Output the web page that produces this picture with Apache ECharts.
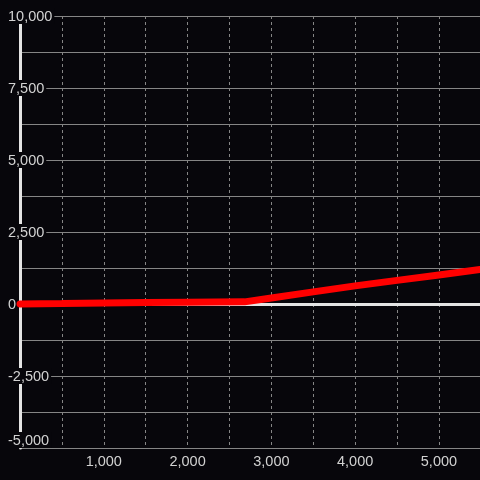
<!DOCTYPE html>
<html>
<head>
    <meta charset="utf-8">
    <title>ECharts</title>
    <script src="https://cdn.jsdelivr.net/npm/echarts@6/dist/echarts.min.js"></script>
    <style>
        html, body { margin: 0; padding: 0; background: #07060b; }
    </style>
</head>
<body>
<div id="main" style="width: 480px;height:480px;"></div>
<script type="text/javascript">
    // x positions and values
    var xValues = [0, 500, 1000, 1500, 2000, 2680, 3000, 3500, 4000, 4500, 5000, 5490];
    var yValues = [0, 15, 35, 55, 65, 75, 210, 420, 630, 820, 1010, 1195];

    var xMin = 0, xMax = 5490;
    var yMin = -5000, yMax = 10000;

    var bg = '#07060b';
    var gridColor = '#858585';
    var labelColor = '#d2d2d2';

    function fmt(v) {
        return v.toLocaleString('en-US');
    }

    var points = [];
    for (var i = 0; i < xValues.length; i++) {
        points.push([xValues[i], yValues[i]]);
    }

    var myChart = echarts.init(document.getElementById('main'));

    var option = {
        backgroundColor: bg,
        animation: false,
        grid: {
            left: 20,
            right: 0,
            top: 16,
            bottom: 32
        },
        xAxis: [{
            type: 'value',
            min: xMin,
            max: xMax,
            interval: 500,
            axisLine: { show: false, onZero: false },
            axisTick: { show: false },
            axisLabel: {
                color: labelColor,
                fontFamily: 'Liberation Sans',
                fontSize: 14.5,
                margin: 6,
                showMaxLabel: false,
                formatter: function (v) {
                    return (v > 0 && v % 1000 === 0) ? fmt(v) : '';
                }
            },
            splitLine: {
                show: true,
                lineStyle: { color: gridColor, type: [3, 3], width: 1 }
            }
        }, {
            // zero line
            type: 'value',
            min: xMin,
            max: xMax,
            axisLine: { show: true, onZero: true, lineStyle: { color: '#e4e4e4', width: 3 } },
            axisTick: { show: false },
            axisLabel: { show: false },
            splitLine: { show: false }
        }],
        yAxis: {
            type: 'value',
            min: yMin,
            max: yMax,
            interval: 1250,
            axisLine: { show: true, onZero: false, lineStyle: { color: '#e4e4e4', width: 3 } },
            axisTick: { show: false },
            axisLabel: {
                align: 'left',
                margin: 14,
                color: labelColor,
                fontFamily: 'Liberation Sans',
                fontSize: 14.5,
                verticalAlignMinLabel: 'bottom',
                formatter: function (v) {
                    return v % 2500 === 0 ? '{b|' + fmt(v) + '}' : '';
                },
                rich: {
                    b: {
                        color: labelColor,
                        fontFamily: 'Liberation Sans',
                        fontSize: 14.5,
                        backgroundColor: bg,
                        padding: [1, 2, 0, 2]
                    }
                }
            },
            splitLine: {
                show: true,
                lineStyle: { color: gridColor, width: 1 }
            }
        },
        series: [{
            type: 'line',
            data: points,
            symbol: 'none',
            clip: false,
            z: 3,
            lineStyle: { color: '#ff0000', width: 7, cap: 'round' }
        }]
    };

    myChart.setOption(option);
</script>
</body>
</html>
